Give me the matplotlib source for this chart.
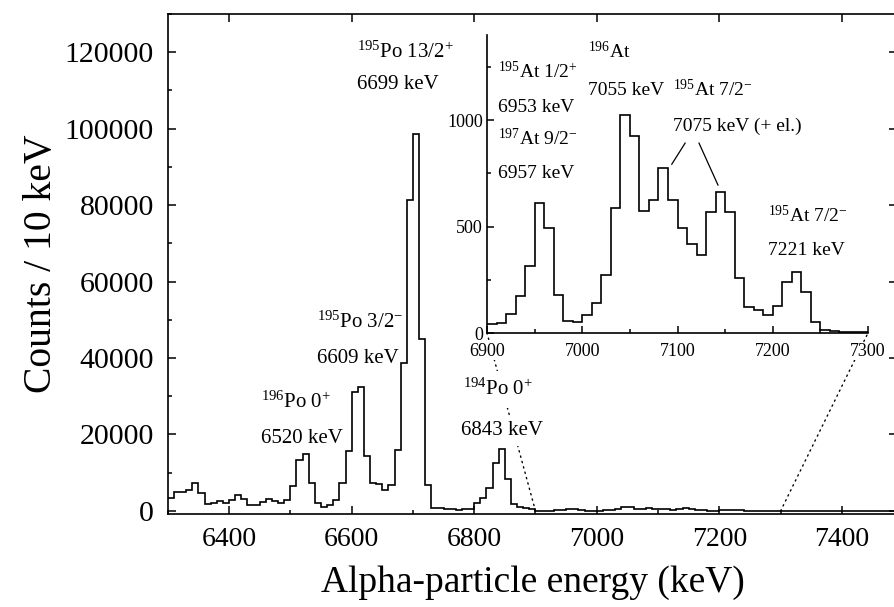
import numpy as np
import matplotlib
matplotlib.use("Agg")
import matplotlib.pyplot as plt
from matplotlib.ticker import MultipleLocator
from matplotlib.patches import ConnectionPatch

plt.rcParams['font.family'] = 'Liberation Serif'
plt.rcParams['mathtext.fontset'] = 'custom'
plt.rcParams['mathtext.rm'] = 'Liberation Serif'
plt.rcParams['mathtext.it'] = 'Liberation Serif:italic'
plt.rcParams['mathtext.bf'] = 'Liberation Serif:bold'

# 10 keV bins
bin_width = 10
e_start = 6300

# counts 6300-6890 keV
counts_low = [3500, 5000, 5000, 5500, 7300, 4600, 1700, 2100, 2500, 2200,
              2800, 4300, 3000, 1600, 1600, 2400, 3200, 2600, 2100, 2900,
              6600, 13300, 14800, 7200, 2000, 1100, 1600, 2900, 7200, 15800,
              31100, 32400, 14400, 7400, 7100, 5500, 6700, 15900, 38600, 81400,
              98700, 44900, 6800, 900, 700, 500, 400, 350, 400, 600,
              2000, 3300, 5900, 12600, 16100, 8300, 1800, 1100, 700, 400]

# counts 6900-7290 keV (inset)
counts_at = [42, 47, 89, 172, 316, 610, 493, 178, 58, 52,
             86, 141, 274, 587, 1023, 926, 574, 626, 775, 624,
             491, 418, 366, 567, 662, 568, 258, 122, 110, 86,
             125, 239, 288, 191, 50, 16, 11, 5, 5, 5]

# counts 7300-7480 keV
counts_tail = [4, 3, 3, 2, 2, 2, 1, 1, 1, 1, 1, 0, 0, 0, 0, 0, 0, 0, 0]

counts_all = np.array(counts_low + counts_at + counts_tail)
edges_all = e_start + bin_width * np.arange(len(counts_all) + 1)
edges_at = 6900 + bin_width * np.arange(len(counts_at) + 1)

fig = plt.figure(figsize=(8.94, 6.07), dpi=100)
ax = fig.add_axes([0.1877, 0.1532, 0.8157, 0.8237])
ax.stairs(counts_all, edges_all, color='black', lw=1.2, baseline=None)
ax.set_xlim(6300, 7490)
ax.set_ylim(-800, 130000)
ax.xaxis.set_major_locator(MultipleLocator(200))
ax.xaxis.set_minor_locator(MultipleLocator(100))
ax.yaxis.set_major_locator(MultipleLocator(20000))
ax.yaxis.set_minor_locator(MultipleLocator(10000))
ax.tick_params(which='major', direction='in', length=6, width=1.1,
               top=True, right=True, labelsize=20)
ax.tick_params(which='minor', direction='in', length=3, width=1.1)
ax.tick_params(axis='y', pad=10, labelsize=21.5)
ax.tick_params(axis='x', pad=9)
for s in ax.spines.values():
    s.set_linewidth(1.2)
ax.set_xlabel('Alpha-particle energy (keV)', fontsize=27, labelpad=10)
ax.set_ylabel('Counts / 10 keV', fontsize=28.5)
ax.yaxis.set_label_coords(-0.148, 0.5)

# main labels
fs = 15
ax.text(6609, 118500, r'$^{195}$Po 13/2$^{+}$', fontsize=fs)
ax.text(6609, 110400, '6699 keV', fontsize=fs)
ax.text(6544, 48000, r'$^{195}$Po 3/2$^{-}$', fontsize=fs)
ax.text(6544, 38600, '6609 keV', fontsize=fs)
ax.text(6452, 27100, r'$^{196}$Po 0$^{+}$', fontsize=fs)
ax.text(6452, 17700, '6520 keV', fontsize=fs)
ax.text(6781, 30300, r'$^{194}$Po 0$^{+}$', fontsize=fs, zorder=5,
        bbox=dict(facecolor='white', edgecolor='none', pad=6))
ax.text(6778, 19800, '6843 keV', fontsize=fs, zorder=5,
        bbox=dict(facecolor='white', edgecolor='none', pad=4))

# inset
axin = fig.add_axes([487 / 894, 274 / 607, 381 / 894, 298 / 607])
axin.stairs(counts_at, edges_at, color='black', lw=1.2, baseline=None)
axin.set_xlim(6900, 7300)
axin.set_ylim(0, 1400)
axin.patch.set_alpha(0)
axin.spines['top'].set_visible(False)
axin.spines['right'].set_visible(False)
axin.xaxis.set_major_locator(MultipleLocator(100))
axin.xaxis.set_minor_locator(MultipleLocator(50))
axin.yaxis.set_major_locator(MultipleLocator(500))
axin.yaxis.set_minor_locator(MultipleLocator(250))
axin.tick_params(which='major', direction='in', length=5, width=1.1,
                 labelsize=13, pad=3)
axin.tick_params(axis='x', pad=7)
axin.tick_params(which='minor', direction='in', length=3, width=1.1)
for s in axin.spines.values():
    s.set_linewidth(1.2)
for lbl in axin.get_xticklabels():
    lbl.set_bbox(dict(facecolor='white', edgecolor='none', pad=0))

fi = 14
axin.text(6911.5, 1197, r'$^{195}$At 1/2$^{+}$', fontsize=fi)
axin.text(6911.5, 1038, '6953 keV', fontsize=fi)
axin.text(6911.5, 883, r'$^{197}$At 9/2$^{-}$', fontsize=fi)
axin.text(6911.5, 728, '6957 keV', fontsize=fi)
axin.text(7006, 1290, r'$^{196}$At', fontsize=fi)
axin.text(7006, 1117, '7055 keV', fontsize=fi)
axin.text(7095, 1113, r'$^{195}$At 7/2$^{-}$', fontsize=fi)
axin.text(7095, 948, '7075 keV (+ el.)', fontsize=fi)
axin.text(7195, 521, r'$^{195}$At 7/2$^{-}$', fontsize=fi)
axin.text(7195, 366, '7221 keV', fontsize=fi)
axin.plot([7108, 7094], [892, 793], color='black', lw=0.9)
axin.plot([7122.6, 7142.5], [892, 695], color='black', lw=0.9)

# dotted connectors from main axis to inset
for e in (6900, 7300):
    con = ConnectionPatch(xyA=(e, 0), coordsA=ax.transData,
                          xyB=(e, 0), coordsB=axin.transData,
                          linestyle=(0, (1, 3)), color='black', lw=1.0)
    con.set_clip_on(False)
    ax.add_artist(con)

fig.savefig('out.png', dpi=100)
